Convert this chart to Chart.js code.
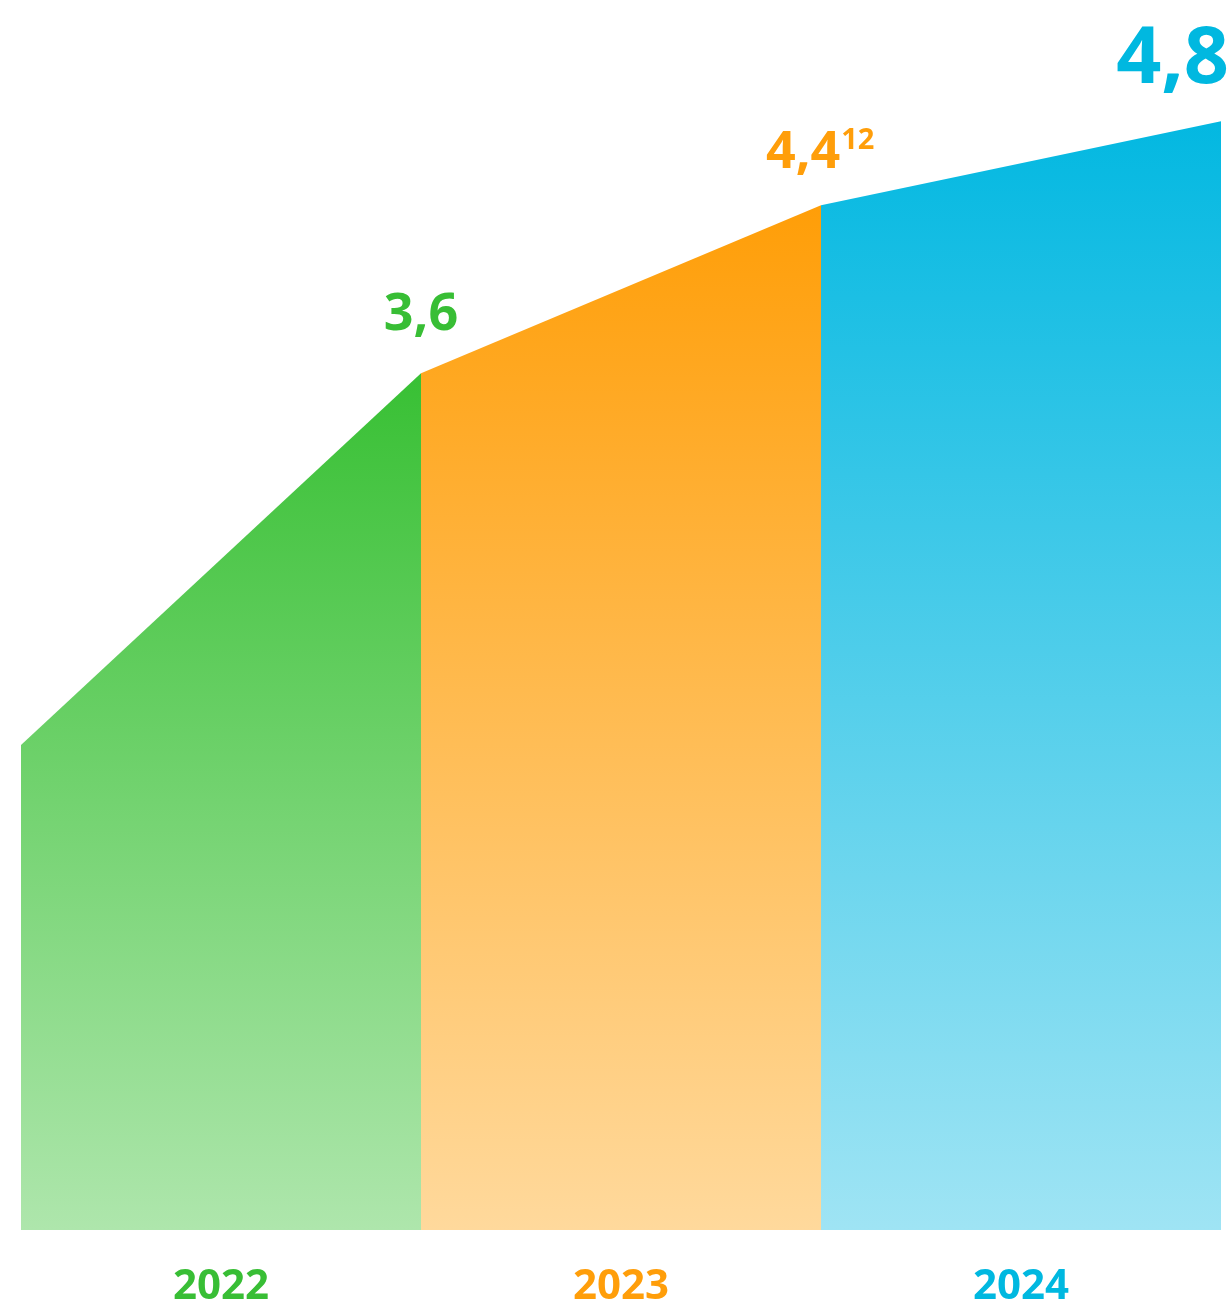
<!DOCTYPE html>
<html>
<head>
<meta charset="utf-8">
<script src="https://cdn.jsdelivr.net/npm/chart.js@4.4.1/dist/chart.umd.min.js"></script>
<style>
  html, body { margin: 0; padding: 0; background: #fff; }
  #wrap { width: 1230px; height: 1303px; position: relative; }
</style>
</head>
<body>
<div id="wrap"><canvas id="chart"></canvas></div>
<script>
// data
const years = ['2022', '2023', '2024'];
const edgeValues = [1.83, 3.6, 4.4, 4.8];   // value at each segment boundary
const valueLabels = ['3,6', '4,4', '4,8'];
const valueNotes = ['', '12', ''];
const topColors = ['#38c034', '#ff9e08', '#03b8e1'];
const bottomColors = ['#aee6ac', '#ffd99c', '#9fe4f4'];
const labelColors = ['#38be35', '#ff9e0a', '#00b8e0'];

const yMin = -0.48, yMax = 5.377;

function makeGradient(i) {
  return function(ctx) {
    const chart = ctx.chart;
    const area = chart.chartArea;
    if (!area) return topColors[i];
    const top = chart.scales.y.getPixelForValue(Math.max(edgeValues[i], edgeValues[i + 1]));
    const g = chart.ctx.createLinearGradient(0, top, 0, area.bottom);
    g.addColorStop(0, topColors[i]);
    g.addColorStop(1, bottomColors[i]);
    return g;
  };
}

const datasets = years.map(function(y, i) {
  return {
    label: y,
    data: [{x: i, y: edgeValues[i]}, {x: i + 1, y: edgeValues[i + 1]}],
    fill: 'start',
    backgroundColor: makeGradient(i),
    borderWidth: 0,
    pointRadius: 0,
    tension: 0
  };
});

// value labels above each segment end
const valueLabelPlugin = {
  id: 'valueLabels',
  afterDatasetsDraw(chart) {
    const c = chart.ctx;
    const xs = chart.scales.x, ys = chart.scales.y;
    c.save();
    c.textBaseline = 'alphabetic';
    valueLabels.forEach(function(txt, i) {
      const px = xs.getPixelForValue(i + 1);
      const py = ys.getPixelForValue(edgeValues[i + 1]);
      c.fillStyle = labelColors[i];
      if (i === 2) {
        c.font = 'bold 79px "Open Sans"';
        c.textAlign = 'right';
        c.fillText(txt, px + 8, py - 38);
      } else if (valueNotes[i]) {
        c.font = 'bold 52px "Open Sans"';
        c.textAlign = 'left';
        const w = c.measureText(txt).width;
        const x0 = px - 55;
        c.fillText(txt, x0, py - 37);
        c.font = 'bold 29px "Open Sans"';
        c.fillText(valueNotes[i], x0 + w + 1, py - 56);
      } else {
        c.font = 'bold 52px "Open Sans"';
        c.textAlign = 'center';
        c.fillText(txt, px, py - 43);
      }
    });
    c.restore();
  }
};

new Chart(document.getElementById('chart'), {
  type: 'line',
  data: { datasets: datasets },
  plugins: [valueLabelPlugin],
  options: {
    responsive: true,
    maintainAspectRatio: false,
    animation: false,
    layout: { padding: { left: 21, right: 9, top: 0, bottom: 2 } },
    plugins: { legend: { display: false }, tooltip: { enabled: false } },
    scales: {
      x: {
        type: 'linear',
        min: 0,
        max: years.length,
        grid: { display: false, drawTicks: false },
        border: { display: false },
        afterBuildTicks: function(axis) {
          axis.ticks = years.map(function(y, i) { return { value: i + 0.5 }; });
        },
        afterFit: function(axis) { axis.height = 71; },
        ticks: {
          padding: 32,
          autoSkip: false,
          maxRotation: 0,
          font: { family: '"Open Sans"', size: 42, weight: 'bold' },
          color: function(ctx) { return labelColors[ctx.index]; },
          callback: function(v, idx) { return years[idx]; }
        }
      },
      y: {
        display: false,
        min: yMin,
        max: yMax
      }
    }
  }
});
</script>
</body>
</html>
